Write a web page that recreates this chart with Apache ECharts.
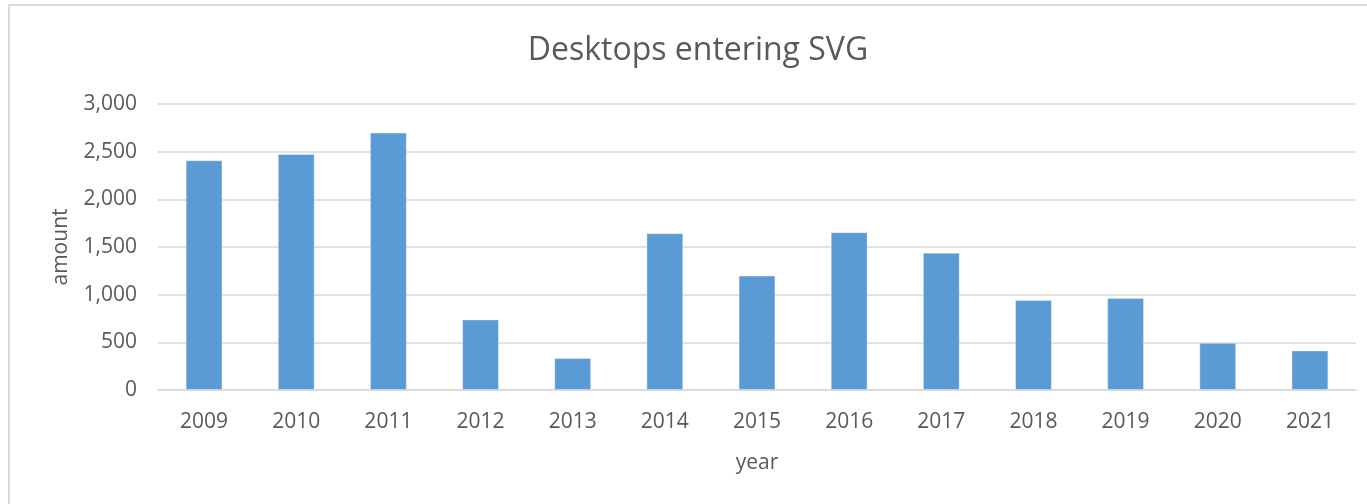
<!DOCTYPE html>
<html>
<head>
<meta charset="utf-8">
<script src="https://cdn.jsdelivr.net/npm/echarts@6/dist/echarts.min.js"></script>
<style>
  html, body { margin: 0; padding: 0; background: #fff; }
  #chart { width: 1367px; height: 504px; }
</style>
</head>
<body>
<div id="chart"></div>
<script>
const years = ["2009", "2010", "2011", "2012", "2013", "2014", "2015", "2016", "2017", "2018", "2019", "2020", "2021"];
const amounts = [2410, 2475, 2700, 740, 335, 1645, 1200, 1655, 1440, 945, 965, 495, 415];
const yTicks = [0, 500, 1000, 1500, 2000, 2500, 3000];

const chart = echarts.init(document.getElementById("chart"));
const font = "'Open Sans', 'Noto Sans', sans-serif";
const textColor = "#595959";

const option = {
    animation: false,
    backgroundColor: "#fff",
    textStyle: { fontFamily: font },
    // light frame of the chart area, as in the spreadsheet export
    graphic: [{
        type: "rect",
        shape: { x: 9, y: 5, width: 1420, height: 560 },
        style: { fill: "none", stroke: "#d9d9d9", lineWidth: 2 },
        silent: true
    }],
    title: {
        text: "Desktops entering SVG",
        left: 693,
        textAlign: "center",
        top: 30,
        textStyle: { fontFamily: font, fontSize: 32, fontWeight: "normal", color: textColor }
    },
    grid: { left: 158, right: 11, top: 104, bottom: 114 },
    xAxis: {
        type: "category",
        data: years,
        name: "year",
        nameLocation: "middle",
        nameGap: 73,
        nameTextStyle: { fontFamily: font, fontSize: 21, color: textColor, verticalAlign: "middle" },
        axisLine: { lineStyle: { color: "#d9d9d9", width: 1.5 } },
        axisTick: { show: false },
        axisLabel: { color: textColor, fontFamily: font, fontSize: 21, margin: 22 }
    },
    yAxis: {
        type: "value",
        min: yTicks[0],
        max: yTicks[yTicks.length - 1],
        interval: 500,
        name: "amount",
        nameLocation: "middle",
        nameGap: 97,
        nameTextStyle: { fontFamily: font, fontSize: 21, color: textColor, verticalAlign: "middle" },
        axisLine: { show: false },
        axisTick: { show: false },
        axisLabel: {
            color: textColor,
            fontFamily: font,
            fontSize: 21,
            margin: 21,
            formatter: v => v.toLocaleString("en-US")
        },
        splitLine: { lineStyle: { color: "#d9d9d9", width: 1.5 } }
    },
    series: [{
        type: "bar",
        data: amounts,
        barWidth: "40%",
        itemStyle: { color: "#5b9bd5", borderColor: "rgba(255,255,255,0.35)", borderWidth: 1 }
    }]
};
chart.setOption(option);
</script>
</body>
</html>
